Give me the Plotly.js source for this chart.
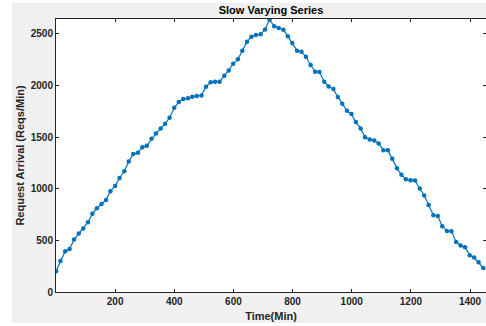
<!DOCTYPE html>
<html>
<head>
<meta charset="utf-8">
<script src="https://cdn.plot.ly/plotly-3.0.1.min.js"></script>
<style>
  html, body { margin: 0; padding: 0; background: #ffffff; }
  #chart { width: 486px; height: 326px; }
</style>
</head>
<body>
<div id="chart"></div>
<script>
// Time in minutes (x axis)
const timeMin = [
  0, 15, 31, 46, 61, 77, 92, 108, 123, 138,
  154, 169, 184, 200, 215, 231, 246, 261, 277, 292,
  307, 323, 338, 354, 369, 384, 400, 415, 430, 446,
  461, 476, 492, 507, 523, 538, 553, 569, 584, 599,
  615, 630, 646, 661, 676, 692, 707, 722, 738, 753,
  769, 784, 799, 815, 830, 845, 861, 876, 891, 907,
  922, 938, 953, 968, 984, 999, 1014, 1030, 1045, 1061,
  1076, 1091, 1107, 1122, 1137, 1153, 1168, 1183, 1199, 1214,
  1230, 1245, 1260, 1276, 1291, 1306, 1322, 1337, 1353, 1368,
  1383, 1399, 1414, 1429, 1445
];
// Request arrivals (Reqs/Min)
const requests = [
  201, 301, 395, 417, 508, 566, 615, 676, 757, 812,
  853, 892, 977, 1028, 1105, 1170, 1265, 1336, 1348, 1403,
  1416, 1484, 1536, 1585, 1630, 1688, 1785, 1840, 1869, 1876,
  1891, 1898, 1905, 1989, 2031, 2037, 2037, 2095, 2147, 2211,
  2254, 2338, 2425, 2473, 2490, 2498, 2543, 2638, 2574, 2558,
  2541, 2477, 2412, 2338, 2328, 2279, 2199, 2134, 2131, 2037,
  1992, 1966, 1890, 1823, 1756, 1724, 1646, 1585, 1500, 1478,
  1468, 1439, 1374, 1374, 1290, 1200, 1135, 1093, 1083, 1080,
  1003, 935, 844, 744, 737, 637, 592, 589, 485, 450,
  434, 356, 334, 288, 232
];
const xTicks = [200, 400, 600, 800, 1000, 1200, 1400];
const yTicks = [0, 500, 1000, 1500, 2000, 2500];

const titleText = 'Slow Varying Series';
const xTitle = 'Time(Min)';
const yTitle = 'Request Arrival (Reqs/Min)';

const axisColor = '#262626';
const fontFam = '"Liberation Sans", Arial, sans-serif';

const trace = {
  x: timeMin,
  y: requests,
  type: 'scatter',
  mode: 'lines+markers',
  line: { color: '#0072BD', width: 1.2 },
  marker: { color: '#0072BD', size: 4.5 },
  hoverinfo: 'x+y'
};

const layout = {
  width: 486,
  height: 326,
  margin: { l: 56, r: 0, t: 19, b: 34, pad: 0 },
  paper_bgcolor: '#f0f0f0',
  plot_bgcolor: '#ffffff',
  showlegend: false,
  font: { family: fontFam, color: axisColor, size: 10 },
  title: {
    text: '<b>' + titleText + '</b>',
    font: { family: fontFam, size: 11, color: '#000000' },
    x: 0.5, xref: 'paper',
    y: 1 - 10 / 326, yref: 'container', yanchor: 'middle'
  },
  xaxis: {
    range: [0, 1454],
    tickvals: xTicks,
    ticktext: xTicks.map(v => '<b>' + v + '</b>'),
    ticks: 'inside',
    ticklen: 3,
    tickwidth: 1,
    tickcolor: axisColor,
    showline: true,
    linecolor: axisColor,
    linewidth: 1,
    mirror: 'ticks',
    showgrid: false,
    zeroline: false,
    tickfont: { family: fontFam, size: 10, color: axisColor },
    title: {
      text: '<b>' + xTitle + '</b>',
      font: { family: fontFam, size: 11, color: axisColor },
      standoff: 6
    }
  },
  yaxis: {
    range: [0, 2645],
    tickvals: yTicks,
    ticktext: yTicks.map(v => '<b>' + v + '</b>'),
    ticks: 'inside',
    ticklen: 3,
    tickwidth: 1,
    tickcolor: axisColor,
    showline: true,
    linecolor: axisColor,
    linewidth: 1,
    mirror: 'ticks',
    showgrid: false,
    zeroline: false,
    tickfont: { family: fontFam, size: 10, color: axisColor },
    title: {
      text: '<b>' + yTitle + '</b>',
      font: { family: fontFam, size: 11, color: axisColor },
      standoff: 3
    }
  },
  shapes: [
    { type: 'rect', xref: 'paper', yref: 'paper', layer: 'below',
      x0: -0.2, x1: -0.1023, y0: -0.2, y1: 1.2,
      fillcolor: '#ffffff', line: { width: 0 } },
    { type: 'rect', xref: 'paper', yref: 'paper', layer: 'below',
      x0: -0.2, x1: 1.1, y0: 1.0586, y1: 1.2,
      fillcolor: '#ffffff', line: { width: 0 } },
    { type: 'rect', xref: 'paper', yref: 'paper', layer: 'below',
      x0: -0.2, x1: 1.1, y0: -0.2, y1: -0.1136,
      fillcolor: '#ffffff', line: { width: 0 } }
  ]
};

Plotly.newPlot('chart', [trace], layout, { staticPlot: true, displayModeBar: false });
</script>
</body>
</html>
